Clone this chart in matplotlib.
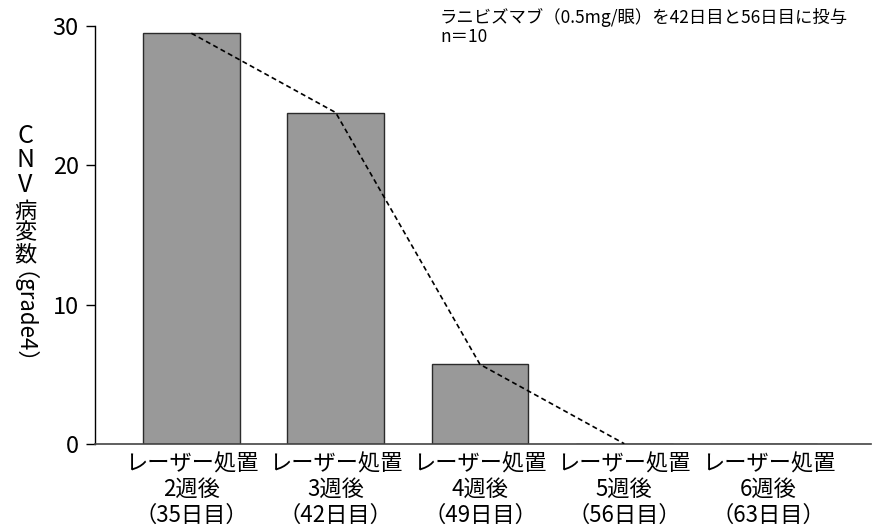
import numpy as np
import matplotlib.pyplot as plt

plt.rcParams['font.family'] = ['Noto Sans CJK JP', 'DejaVu Sans']

# data
labels = ['レーザー処置\n2週後\n（35日目）',
          'レーザー処置\n3週後\n（42日目）',
          'レーザー処置\n4週後\n（49日目）',
          'レーザー処置\n5週後\n（56日目）',
          'レーザー処置\n6週後\n（63日目）']
counts = [29.5, 23.8, 5.7, 0, 0]
trend = [29.5, 23.8, 5.7, 0]   # dashed line only over first four points
yticks = [0, 10, 20, 30]

W, H = 872, 528
fig = plt.figure(figsize=(W / 100, H / 100), dpi=100)
ax = fig.add_axes([94.7 / W, 1 - 443.7 / H, (871 - 94.7) / W, (443.7 - 26.3) / H])

x = np.arange(len(labels))
ax.bar(x, counts, width=0.67, color='#999999', edgecolor='#2b2b2b', linewidth=1, zorder=2)
ax.plot(x[:len(trend)], trend, color='black', lw=1.2, ls=(0, (3, 2)), zorder=3)

ax.set_xlim(-0.67, 4.71)
ax.set_ylim(0, 30)
ax.set_yticks(yticks)
ax.set_xticks(x)
ax.set_xticklabels(labels, fontsize=16, linespacing=1.15)
ax.tick_params(axis='x', length=0, pad=6)
ax.tick_params(axis='y', length=6.5, width=1, pad=5, labelsize=17)
for s in ['top', 'right']:
    ax.spines[s].set_visible(False)
ax.spines['left'].set_linewidth(1)
ax.spines['bottom'].set_linewidth(1.2)
ax.spines['bottom'].set_color('#444444')

# vertical y label: upright characters, then rotated bracket part
ylab_chars = ['C', 'N', 'V', '病', '変', '数']
ylab_pos = [136, 160, 185, 211, 233, 255]
ylab_size = [18, 18, 18, 16, 16, 16]
for ch, yp, fs in zip(ylab_chars, ylab_pos, ylab_size):
    fig.text(25 / W, 1 - yp / H, ch, fontsize=fs, ha='center', va='center')
fig.text(12 / W, 1 - 329 / H, '（grade4）', fontsize=16, rotation=-90,
         ha='center', va='center')

fig.text(440 / W, 1 - 8 / H, 'ラニビズマブ（0.5mg/眼）を42日目と56日目に投与\nn＝10',
         fontsize=12.5, ha='left', va='top', linespacing=1.05)

fig.savefig('out.png', dpi=100)
